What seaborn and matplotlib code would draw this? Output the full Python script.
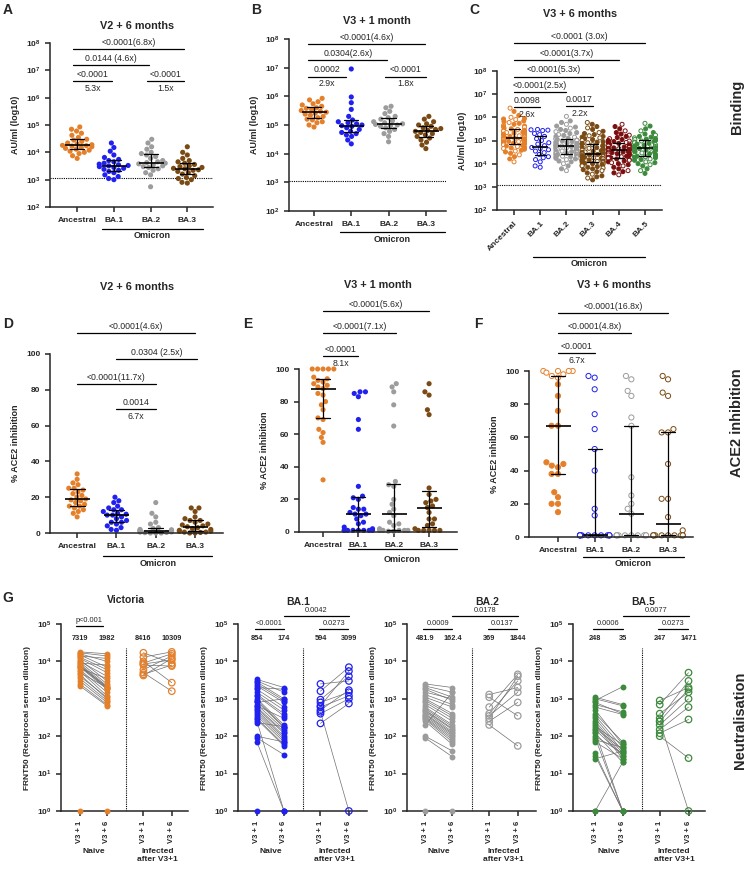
import warnings
import numpy as np
import pandas as pd
import matplotlib
matplotlib.use("Agg")
import matplotlib.pyplot as plt
import matplotlib.ticker as mticker
from matplotlib.colors import to_rgba
import seaborn as sns

warnings.filterwarnings("ignore")

# ---------------- data ----------------
variants = ["Ancestral", "BA.1", "BA.2", "BA.3"]
variants_c = ["Ancestral", "BA.1", "BA.2", "BA.3", "BA.4", "BA.5"]
colors = {"Ancestral": "#E5802A", "BA.1": "#2020F0", "BA.2": "#9C9C9C",
          "BA.3": "#7A4A14", "BA.4": "#7A0E0E", "BA.5": "#3C8A3C"}

# A: binding, V2 + 6 months (AU/ml)
a_ancestral = [85000, 70000, 60000, 50000, 42000, 35000, 30000, 28000, 25000, 22000, 20000, 19000,
               18000, 17500, 17000, 16000, 15000, 14000, 13000, 12000, 11000, 10000, 9000, 7500, 6000]
a_ba1 = [22000, 15000, 11000, 8000, 6500, 5500, 5000, 4500, 4000, 3700, 3500, 3300, 3200, 3000,
         2800, 2600, 2400, 2200, 2000, 1800, 1500, 1300, 1100, 1000]
a_ba2 = [30000, 22000, 16000, 13000, 10000, 9000, 8000, 7000, 6000, 5000, 4500, 4200, 4000, 3800,
         3500, 3200, 3000, 2800, 2500, 2200, 1800, 1500, 550]
a_ba3 = [16000, 10000, 8000, 6000, 5000, 4500, 4000, 3600, 3200, 3000, 2800, 2600, 2500, 2300,
         2200, 2000, 1800, 1600, 1400, 1200, 1100, 1000, 800, 750]

# B: binding, V3 + 1 month (AU/ml)
b_ancestral = [850000, 750000, 650000, 550000, 500000, 450000, 400000, 380000, 350000, 320000, 300000,
               280000, 260000, 240000, 220000, 200000, 180000, 160000, 150000, 130000, 120000, 100000, 85000]
b_ba1 = [9000000, 950000, 600000, 350000, 200000, 150000, 130000, 120000, 110000, 100000, 95000,
         90000, 80000, 70000, 60000, 55000, 50000, 45000, 40000, 30000, 22000]
b_ba2 = [450000, 400000, 300000, 250000, 200000, 180000, 160000, 140000, 130000, 120000, 110000,
         105000, 100000, 95000, 90000, 80000, 70000, 60000, 50000, 40000, 26000]
b_ba3 = [200000, 160000, 130000, 110000, 100000, 90000, 80000, 75000, 70000, 65000, 60000, 55000,
         50000, 45000, 40000, 35000, 30000, 25000, 20000, 15000]

# C: binding, V3 + 6 months (thousand AU/ml)
c_ancestral = [2500, 1800, 1200, 1000, 900, 850, 800, 700, 650, 600, 550, 500, 450, 420, 400, 370, 340,
               320, 300, 280, 260, 250, 240, 230, 220, 210, 200, 190, 180, 170, 160, 150, 145, 140, 135,
               130, 125, 120, 115, 110, 105, 100, 98, 95, 92, 90, 88, 85, 82, 80, 77, 74, 71,
               68, 65, 62, 58, 55, 52, 48, 45, 42, 38, 35, 32, 28, 24, 20, 16, 12]
c_ba1 = [300, 290, 280, 270, 200, 180, 150, 120, 100, 80, 70, 60, 50, 45, 40, 35, 30, 25, 20, 18,
         15, 12, 8, 7]
c_ba2 = [1100, 700, 600, 500, 420, 380, 340, 300, 270, 240, 220, 200, 180, 165, 150, 140, 125,
         120, 115, 110, 105, 100, 95, 90, 85, 80, 77, 74, 70, 67, 64, 62, 60, 58, 56,
         55, 53, 51, 49, 47, 45, 43, 41, 39, 37, 35, 33, 31, 30, 29, 28, 27, 26,
         25, 24, 23, 22, 21, 20, 19, 18, 17, 16, 15, 13, 12, 10, 8, 6, 5]
c_ba3 = [600, 500, 400, 350, 300, 250, 220, 200, 180, 160, 150, 140, 130, 120, 110, 100, 90, 85, 80, 75,
         70, 66, 62, 58, 55, 52, 49, 46, 43, 40, 38, 36, 34, 32, 31, 30, 29, 28, 27, 26,
         25, 24, 23, 22, 21, 20, 19.5, 19, 18, 17, 16.5, 16, 15, 14.5, 14, 13.5, 13, 12.5, 12, 11.5,
         11, 10.5, 10, 9.5, 9, 8.5, 8, 7.5, 7, 6.5, 6, 5.5, 5, 4.5, 4, 3.5, 3, 2.7, 2.4, 2]
c_ba4 = [500, 400, 320, 260, 220, 190, 170, 150, 135, 120, 110, 100, 95, 90, 85, 82,
         80, 75, 70, 66, 62, 58, 55, 52, 50, 48, 46, 44, 42, 41, 40, 39,
         38, 36, 34, 32, 31, 30, 29, 28, 27, 25, 24, 23, 21, 20, 19, 18,
         17, 16, 15, 14, 13, 12, 11, 10, 9, 8, 7, 6, 5, 4.5, 4, 3.3]
c_ba5 = [550, 420, 320, 260, 220, 190, 170, 150, 140, 130, 120, 115, 110, 105,
         100, 95, 90, 85, 80, 75, 70, 66, 62, 58, 55, 52, 49, 47,
         45, 43, 41, 39, 37, 35, 33, 31, 29, 27, 25, 23, 22, 21,
         20, 19, 18, 16, 15, 14, 12, 11, 10, 9, 8, 6, 5, 3.8]

# D: % ACE2 inhibition, V2 + 6 months
d_ancestral = [33, 30, 28, 27, 25, 25, 24, 23, 22, 21, 20, 19, 18.5, 18, 17, 16, 15, 15, 14, 13, 12, 11, 9]
d_ba1 = [20, 18, 17, 15, 14, 13, 13, 12, 11, 10.5, 10, 10, 9, 8, 7, 6, 6, 5, 4, 3, 2, 1.5]
d_ba2 = [17, 11, 9, 6, 5, 3, 2.5, 2, 1.8, 1.5, 1.5, 1.2, 1, 1, 0.8, 0.6, 0.5, 0.3, 0.2, 0, 0, 0]
d_ba3 = [14, 14, 12, 9, 8, 7, 7, 6, 5, 4.5, 4, 3.5, 3, 2.5, 2, 1.5, 1, 1, 0.5, 0.5, 0.3, 0, 0]

# E: % ACE2 inhibition, V3 + 1 month
e_ancestral = [100, 100, 100, 100, 100, 95, 94, 93, 92, 91, 90, 89, 88, 85, 84, 80, 78, 75, 70, 69,
               63, 61, 58, 55, 32]
e_ba1 = [86, 86, 85, 83, 69, 63, 28, 22, 21, 20, 15, 14, 14, 12, 11, 11, 10, 8, 6, 5, 3, 2,
         1, 1, 1, 1, 1, 1, 1, 1]
e_ba2 = [91, 89, 86, 78, 65, 31, 29, 28, 20, 17, 14, 12, 10, 6, 5, 4, 2, 1, 1, 1, 1, 1, 0.5, 0.5]
e_ba3 = [91, 86, 84, 75, 72, 27, 23, 20, 19, 18, 16, 15, 12, 8, 8, 5, 4, 2, 1, 1, 1, 1, 1]

# F: % ACE2 inhibition, V3 + 6 months
f_ancestral = [100, 100, 100, 100, 99, 98, 97, 96, 92, 85, 76, 67, 67, 45, 44, 43, 42, 38, 38, 27,
               24, 20, 20, 15]
f_ba1 = [97, 96, 89, 74, 65, 53, 40, 17, 13, 1, 1, 1, 1, 1, 1, 1, 1, 1, 1, 1, 1]
f_ba2 = [97, 95, 88, 85, 72, 67, 36, 25, 20, 17, 14, 1, 1, 1, 1, 1, 1, 1, 1, 1, 1]
f_ba3 = [97, 95, 87, 85, 65, 63, 63, 44, 23, 23, 12, 4, 1, 1, 1, 1, 1, 1, 1, 1, 1, 1]

# G: FRNT50, paired V3+1 / V3+6 (naive and infected after V3+1)
vic_naive_1 = [18000, 17000, 16000, 15000, 14000, 13000, 12000, 11000, 10000, 9500, 9000, 8500, 8000,
               7500, 7300, 7000, 6500, 6000, 5500, 5000, 4500, 4000, 3500, 3000, 2500, 2200, 1]
vic_naive_6 = [16000, 14000, 10000, 7000, 12000, 6000, 5000, 3000, 4000, 2500, 8000, 2200, 2000,
               1900, 2100, 1800, 3500, 1500, 1200, 2000, 1000, 1100, 900, 800, 700, 650, 1]
vic_inf_1 = [17000, 13000, 10000, 9000, 8500, 8000, 6000, 5000, 4500, 4200]
vic_inf_6 = [9000, 18000, 2700, 16000, 11000, 7500, 14000, 1600, 8000, 12000]

ba1_naive_1 = [3300, 3000, 2800, 2500, 2200, 2000, 1800, 1500, 1300, 1200, 1000, 900, 850, 800, 700,
               650, 600, 550, 500, 450, 400, 350, 300, 280, 250, 230, 100, 90, 70, 1]
ba1_naive_6 = [2000, 1500, 1000, 900, 800, 1800, 600, 500, 400, 350, 200, 180, 170, 1000, 150,
               300, 130, 120, 100, 90, 80, 70, 60, 55, 1, 180, 70, 32, 1, 1]
ba1_inf_1 = [2500, 1600, 950, 800, 650, 600, 500, 450, 400, 220]
ba1_inf_6 = [3000, 7000, 4000, 1500, 5500, 1200, 1700, 1, 1000, 750]

ba2_naive_1 = [2500, 2200, 2000, 1800, 1500, 1300, 1100, 1000, 900, 800, 700, 600, 550, 500, 480,
               450, 400, 380, 350, 320, 300, 280, 250, 200, 100, 90, 1]
ba2_naive_6 = [2000, 1500, 1100, 900, 1000, 700, 600, 400, 350, 300, 250, 200, 180, 160, 150,
               130, 120, 110, 100, 90, 80, 70, 60, 1500, 40, 28, 1]
ba2_inf_1 = [1300, 1100, 600, 400, 350, 300, 250, 200]
ba2_inf_6 = [2000, 350, 4500, 3000, 1500, 4000, 800, 55]

ba5_naive_1 = [1100, 1000, 900, 800, 700, 600, 500, 400, 350, 300, 250, 220, 200, 180, 160, 150,
               130, 120, 100, 90, 80, 70, 35, 30, 25, 1, 1]
ba5_naive_6 = [700, 650, 2100, 400, 450, 380, 60, 70, 50, 40, 35, 30, 25, 60, 45, 30,
               1, 20, 35, 1, 50, 25, 1, 1, 40, 20, 1]
ba5_inf_1 = [900, 700, 400, 300, 250, 200, 150, 120, 100, 250]
ba5_inf_6 = [2000, 5000, 1500, 3000, 1800, 1000, 600, 280, 26, 1]

# ---------------- style ----------------
sns.set_style("ticks")
plt.rcParams["font.family"] = ["Liberation Sans", "DejaVu Sans"]
plt.rcParams["mathtext.fontset"] = "custom"
plt.rcParams["mathtext.rm"] = "Liberation Sans"
plt.rcParams["mathtext.bf"] = "Liberation Sans:bold"
plt.rcParams["axes.linewidth"] = 1.1
plt.rcParams["xtick.major.width"] = 1.1
plt.rcParams["ytick.major.width"] = 1.1
plt.rcParams["xtick.major.size"] = 3.5
plt.rcParams["ytick.major.size"] = 3.5

W, H = 747, 869
fig = plt.figure(figsize=(W / 100, H / 100), dpi=100)


def add_ax(left, top, right, bottom):
    return fig.add_axes([left / W, 1 - bottom / H, (right - left) / W, (bottom - top) / H])


def log_fmt(v, pos):
    return r"$\mathbf{10^{%d}}$" % int(round(np.log10(v)))


def bracket(ax, x1, x2, y, above, below=None, fs=6.3):
    ax.plot([x1, x2], [y, y], color="black", lw=0.9, clip_on=False)
    mid = (x1 + x2) / 2
    ax.annotate(above, (mid, y), xytext=(0, 1.5), textcoords="offset points",
                ha="center", va="bottom", fontsize=fs, annotation_clip=False)
    if below:
        ax.annotate(below, (mid, y), xytext=(0, -2), textcoords="offset points",
                    ha="center", va="top", fontsize=fs, annotation_clip=False)


def omicron(ax, x1, x2, yl, yt):
    tr = ax.get_xaxis_transform()
    ax.plot([x1, x2], [yl, yl], transform=tr, color="black", lw=0.9, clip_on=False)
    ax.text((x1 + x2) / 2, yt, "Omicron", transform=tr, ha="center", va="center",
            fontsize=6.5, fontweight="bold")


def strip_panel(ax, groups, order, log, msize=18, capsize=0.38, dot=3.7):
    df = pd.DataFrame([(k, v) for k in order for v in groups[k]], columns=["variant", "value"])
    if log:
        ax.set_yscale("log")
    n0 = len(ax.collections)
    sns.swarmplot(data=df, x="variant", y="value", hue="variant", order=order, hue_order=order,
                  palette=colors, size=dot, linewidth=0, legend=False, clip_on=False, zorder=2, ax=ax)
    sns.pointplot(data=df, x="variant", y="value", order=order, estimator="median",
                  errorbar=("pi", 50), color="black", marker="_", markersize=msize,
                  markeredgewidth=1.2, linestyle="none", capsize=capsize,
                  err_kws={"linewidth": 0.9}, zorder=5, ax=ax)
    sns.despine(ax=ax)
    ax.set_xlabel("")
    ax.tick_params(axis="both", labelsize=6)
    for lab in ax.get_xticklabels() + ax.get_yticklabels():
        lab.set_fontweight("bold")
    return ax.collections[n0:n0 + len(order)]


def open_points(coll, color, rule):
    offs = coll.get_offsets()
    fc = np.tile(to_rgba(color), (len(offs), 1))
    for i in range(len(offs)):
        if rule(i, offs[i, 1]):
            fc[i] = (1, 1, 1, 1)
    coll.set_facecolor(fc)
    coll.set_edgecolor(color)
    coll.set_linewidth(0.7)


def binding_axes(ax, xlim):
    ax.set_ylim(1e2, 1e8)
    ax.set_xlim(*xlim)
    ax.yaxis.set_major_locator(mticker.LogLocator(base=10, numticks=10))
    ax.yaxis.set_minor_locator(mticker.NullLocator())
    ax.yaxis.set_major_formatter(mticker.FuncFormatter(log_fmt))
    ax.axhline(1150, color="black", ls=(0, (1, 1)), lw=0.8, zorder=1)
    ax.set_ylabel("AU/ml (log10)", fontsize=6.5, fontweight="bold")


def ace_axes(ax, xlim):
    ax.set_ylim(0, 100)
    ax.set_xlim(*xlim)
    ax.set_yticks([0, 20, 40, 60, 80, 100])
    ax.set_ylabel("% ACE2 inhibition", fontsize=6.5, fontweight="bold")
    for lab in ax.get_yticklabels():
        lab.set_fontweight("bold")
        lab.set_fontsize(6)


# ---------------- A ----------------
axA = add_ax(50, 43, 213, 207)
strip_panel(axA, {"Ancestral": a_ancestral, "BA.1": a_ba1, "BA.2": a_ba2, "BA.3": a_ba3}, variants, True)
binding_axes(axA, (-0.74, 3.7))
bracket(axA, -0.1, 2.9, 10 ** 7.79, "<0.0001(6.8x)")
bracket(axA, -0.1, 1.95, 10 ** 7.19, "0.0144 (4.6x)")
bracket(axA, -0.1, 0.95, 10 ** 6.61, "<0.0001", "5.3x")
bracket(axA, 1.9, 2.9, 10 ** 6.61, "<0.0001", "1.5x")
omicron(axA, 0.68, 3.43, -0.134, -0.175)

# ---------------- B ----------------
axB = add_ax(289, 39, 446, 211)
strip_panel(axB, {"Ancestral": b_ancestral, "BA.1": b_ba1, "BA.2": b_ba2, "BA.3": b_ba3}, variants, True)
binding_axes(axB, (-0.67, 3.54))
bracket(axB, -0.15, 2.97, 10 ** 7.81, "<0.0001(4.6x)")
bracket(axB, -0.15, 1.97, 10 ** 7.27, "0.0304(2.6x)")
bracket(axB, -0.15, 0.85, 10 ** 6.69, "0.0002", "2.9x")
bracket(axB, 1.9, 3.0, 10 ** 6.69, "<0.0001", "1.8x")
omicron(axB, 0.7, 3.5, -0.122, -0.165)

# ---------------- C ----------------
axC = add_ax(497, 71, 662, 210)
c_groups = {"Ancestral": c_ancestral, "BA.1": c_ba1, "BA.2": c_ba2, "BA.3": c_ba3,
            "BA.4": c_ba4, "BA.5": c_ba5}
c_groups = {k: list(np.array(v) * 1000) for k, v in c_groups.items()}
colls = strip_panel(axC, c_groups, variants_c, True, msize=12, capsize=0.42, dot=2.9)
for coll, name in zip(colls, variants_c):
    if name == "BA.1":
        open_points(coll, colors[name], lambda i, v: True)
    else:
        open_points(coll, colors[name], lambda i, v: i % 3 == 0)
binding_axes(axC, (-0.65, 5.65))
axC.set_xticklabels(variants_c, rotation=45, ha="right", rotation_mode="anchor")
bracket(axC, 0, 5, 10 ** 9.2, "<0.0001 (3.0x)")
bracket(axC, 0, 4, 10 ** 8.46, "<0.0001(3.7x)")
bracket(axC, 0, 3, 10 ** 7.76, "<0.0001(5.3x)")
bracket(axC, 0, 2, 10 ** 7.1, "<0.0001(2.5x)")
bracket(axC, 0, 1, 10 ** 6.45, "0.0098", "2.6x")
bracket(axC, 2, 3, 10 ** 6.5, "0.0017", "2.2x")
omicron(axC, 0.73, 5.0, -0.338, -0.385)

# ---------------- D ----------------
axD = add_ax(50, 354, 223, 533)
strip_panel(axD, {"Ancestral": d_ancestral, "BA.1": d_ba1, "BA.2": d_ba2, "BA.3": d_ba3}, variants, False)
ace_axes(axD, (-0.69, 3.71))
bracket(axD, 0, 3, 111.7, "<0.0001(4.6x)")
bracket(axD, 1, 3.05, 97.4, "0.0304 (2.5x)")
bracket(axD, 0, 2, 83.4, "<0.0001(11.7x)")
bracket(axD, 1, 2, 69, "0.0014", "6.7x")
omicron(axD, 0.66, 3.44, -0.128, -0.17)

# ---------------- E ----------------
axE = add_ax(299, 369, 457, 532)
strip_panel(axE, {"Ancestral": e_ancestral, "BA.1": e_ba1, "BA.2": e_ba2, "BA.3": e_ba3}, variants, False)
ace_axes(axE, (-0.68, 3.79))
bracket(axE, 0, 3, 135.6, "<0.0001(5.6x)")
bracket(axE, 0, 2.06, 122, "<0.0001(7.1x)")
bracket(axE, 0, 1, 108, "<0.0001", "8.1x")
omicron(axE, 0.71, 3.79, -0.104, -0.166)

# ---------------- F ----------------
axF = add_ax(529, 371, 693, 537)
colls = strip_panel(axF, {"Ancestral": f_ancestral, "BA.1": f_ba1, "BA.2": f_ba2, "BA.3": f_ba3},
                    variants, False)
for coll, name in zip(colls, variants):
    if name == "Ancestral":
        open_points(coll, colors[name], lambda i, v: v >= 96)
    else:
        open_points(coll, colors[name], lambda i, v: True)
ace_axes(axF, (-0.79, 3.68))
bracket(axF, 0, 3, 135, "<0.0001(16.8x)")
bracket(axF, 0, 2, 122.9, "<0.0001(4.8x)")
bracket(axF, 0, 1, 110.8, "<0.0001", "6.7x")
omicron(axF, 0.68, 3.44, -0.12, -0.157)

# ---------------- G ----------------
xpos = {("Naive", "V3 + 1"): 0.0, ("Naive", "V3 + 6"): 1.0,
        ("Infected", "V3 + 1"): 2.35, ("Infected", "V3 + 6"): 3.4}


def neut_panel(ax, color, n1, n6, i1, i6, xlim, medians, pvals):
    rows = []
    for grp, v1, v6 in (("Naive", n1, n6), ("Infected", i1, i6)):
        for k, (a, b) in enumerate(zip(v1, v6)):
            rows.append((f"{grp}{k}", grp, xpos[(grp, "V3 + 1")], a))
            rows.append((f"{grp}{k}", grp, xpos[(grp, "V3 + 6")], b))
    df = pd.DataFrame(rows, columns=["subject", "group", "x", "value"])
    ax.set_yscale("log")
    sns.lineplot(data=df, x="x", y="value", units="subject", estimator=None, sort=False,
                 color="#707070", linewidth=0.5, zorder=1, ax=ax)
    sns.scatterplot(data=df[df.group == "Naive"], x="x", y="value", color=color, s=18,
                    linewidth=0, clip_on=False, zorder=3, ax=ax)
    sns.scatterplot(data=df[df.group == "Infected"], x="x", y="value", color=color, s=22,
                    facecolor="none", edgecolor=color, linewidth=0.9, clip_on=False, zorder=3, ax=ax)
    ax.set_ylim(1, 1e5)
    ax.set_xlim(*xlim)
    ax.yaxis.set_major_locator(mticker.LogLocator(base=10, numticks=10))
    ax.yaxis.set_minor_locator(mticker.NullLocator())
    ax.yaxis.set_major_formatter(mticker.FuncFormatter(log_fmt))
    ax.set_xticks(list(xpos.values()))
    ax.set_xticklabels([k[1] for k in xpos], rotation=90, fontsize=5.5, fontweight="bold")
    ax.tick_params(axis="y", labelsize=6)
    ax.set_xlabel("")
    ax.set_ylabel("FRNT50 (Reciprocal serum dilution)", fontsize=6, fontweight="bold")
    sns.despine(ax=ax)
    ax.plot([1.7, 1.7], [1, 10 ** 4.36], color="black", ls=(0, (1, 1)), lw=0.8)
    for xv, m in zip(xpos.values(), medians):
        ax.text(xv, 10 ** 4.6, m, ha="center", va="center", fontsize=5.3, fontweight="bold")
    tr = ax.get_xaxis_transform()
    ax.text(0.5, -0.2, "Naive", transform=tr, ha="center", va="top", fontsize=6, fontweight="bold")
    ax.text(2.875, -0.2, "Infected\nafter V3+1", transform=tr, ha="center", va="top",
            fontsize=6, fontweight="bold", linespacing=1.05)
    for x1, x2, y, lab in pvals:
        bracket(ax, x1, x2, 10 ** y, lab, fs=5.3)


axG1 = add_ax(61, 624, 188, 811)
neut_panel(axG1, colors["Ancestral"], vic_naive_1, vic_naive_6, vic_inf_1, vic_inf_6, (-0.7, 4.0),
           ["7319", "1982", "8416", "10309"], [(-0.15, 0.85, 4.95, "p<0.001")])
axG2 = add_ax(238, 624, 367, 811)
neut_panel(axG2, colors["BA.1"], ba1_naive_1, ba1_naive_6, ba1_inf_1, ba1_inf_6, (-0.7, 4.07),
           ["854", "174", "594", "3099"],
           [(1.0, 3.4, 5.21, "0.0042"), (-0.07, 1.0, 4.87, "<0.0001"), (2.3, 3.37, 4.87, "0.0273")])
axG3 = add_ax(407, 624, 536, 811)
neut_panel(axG3, colors["BA.2"], ba2_naive_1, ba2_naive_6, ba2_inf_1, ba2_inf_6, (-0.67, 4.07),
           ["481.9", "162.4", "369", "1844"],
           [(1.0, 3.4, 5.21, "0.0178"), (-0.07, 1.0, 4.87, "0.0009"), (2.3, 3.37, 4.87, "0.0137")])
axG4 = add_ax(573, 624, 705, 811)
neut_panel(axG4, colors["BA.5"], ba5_naive_1, ba5_naive_6, ba5_inf_1, ba5_inf_6, (-0.81, 4.0),
           ["248", "35", "247", "1471"],
           [(1.0, 3.4, 5.21, "0.0077"), (-0.07, 1.0, 4.87, "0.0006"), (2.3, 3.37, 4.87, "0.0273")])

# ---------------- titles, letters, row labels ----------------
def ftext(x, y, s, **kw):
    fig.text(x / W, 1 - y / H, s, ha="center", va="center", fontweight="bold", **kw)


for x, y, s in [(137, 26, "V2 + 6 months"), (377, 21, "V3 + 1 month"), (580, 14, "V3 + 6 months"),
                (137, 287, "V2 + 6 months"), (378, 285, "V3 + 1 month"), (614, 285, "V3 + 6 months")]:
    ftext(x, y, s, fontsize=7.8)
for x, y, s in [(126, 600, "Victoria"), (298, 602, "BA.1"), (487, 602, "BA.2"), (643, 602, "BA.5")]:
    ftext(x, y, s, fontsize=7.5)
for x, y, s in [(8, 10, "A"), (256, 10, "B"), (474, 10, "C"), (8, 324, "D"), (248, 324, "E"),
                (478, 324, "F"), (8, 598, "G")]:
    ftext(x, y, s, fontsize=10)
ftext(737, 107, "Binding", fontsize=10.5, rotation=90)
ftext(737, 423, "ACE2 inhibition", fontsize=10.5, rotation=90)
ftext(740, 720, "Neutralisation", fontsize=10.5, rotation=90)

fig.savefig("out.png", dpi=100)
